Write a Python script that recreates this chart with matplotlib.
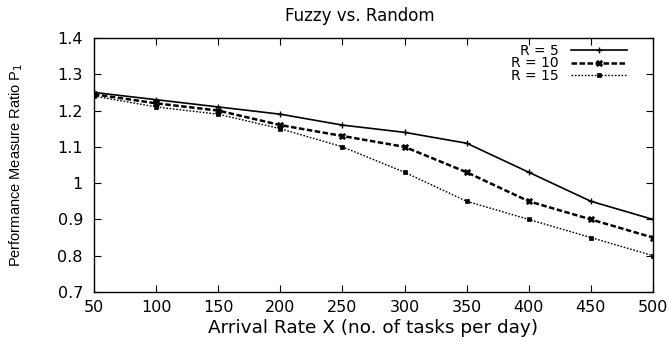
import matplotlib
matplotlib.use("Agg")
import matplotlib.pyplot as plt

plt.rcParams['font.family'] = ['DejaVu Sans']

x = [50, 100, 150, 200, 250, 300, 350, 400, 450, 500]
r5 = [1.25, 1.23, 1.21, 1.19, 1.16, 1.14, 1.11, 1.03, 0.95, 0.90]
r10 = [1.245, 1.22, 1.20, 1.16, 1.13, 1.10, 1.03, 0.95, 0.90, 0.85]
r15 = [1.24, 1.21, 1.19, 1.15, 1.10, 1.03, 0.95, 0.90, 0.85, 0.80]
labels = ["R = 5", "R = 10", "R = 15"]
xticks = [50, 100, 150, 200, 250, 300, 350, 400, 450, 500]
yticks = [0.7, 0.8, 0.9, 1.0, 1.1, 1.2, 1.3, 1.4]
ytick_labels = ["0.7", "0.8", "0.9", "1", "1.1", "1.2", "1.3", "1.4"]

fig = plt.figure(figsize=(6.69, 3.41), dpi=100)
L, R, T, B = 94, 653, 38, 292
ax = fig.add_axes([L / 669, (341 - B) / 341, (R - L) / 669, (B - T) / 341])

ax.plot(x, r5, color='black', lw=1.2, ls='-', marker='+', ms=5, mew=1.0, label=labels[0])
ax.plot(x, r10, color='black', lw=1.8, ls=(0, (2.2, 1.0)), marker='X', ms=5, mew=0.5, label=labels[1])
ax.plot(x, r15, color='black', lw=1.0, ls=(0, (1.2, 1.2)), marker='s', ms=3.5, mew=0.5, label=labels[2])

ax.set_xlim(50, 500)
ax.set_ylim(0.7, 1.4)
ax.set_xticks(xticks)
ax.set_yticks(yticks)
ax.set_yticklabels(ytick_labels)
ax.tick_params(direction='in', top=True, right=True, length=5, width=0.8, labelsize=11.5)
ax.tick_params(axis='x', pad=6)
ax.tick_params(axis='y', pad=8)
for s in ax.spines.values():
    s.set_linewidth(1.0)

ax.set_title("Fuzzy vs. Random", fontsize=12, pad=12, x=0.476)
ax.set_xlabel("Arrival Rate X (no. of tasks per day)", fontsize=13.3, labelpad=2.5)
ax.set_ylabel("Performance Measure Ratio P$_1$", fontsize=10.5, family='Liberation Sans')
ax.yaxis.set_label_coords((25 - L) / (R - L), 0.5)

leg = ax.legend(loc='upper right', bbox_to_anchor=((627 - L) / (R - L), 1 - 6 / (B - T)),
                frameon=False, markerfirst=False, fontsize=10,
                handlelength=4.0, handletextpad=0.9, labelspacing=-0.11,
                borderaxespad=0.0, borderpad=0.0)
for t in leg.get_texts():
    t.set_ha('right')

fig.savefig("out.png", dpi=100)
